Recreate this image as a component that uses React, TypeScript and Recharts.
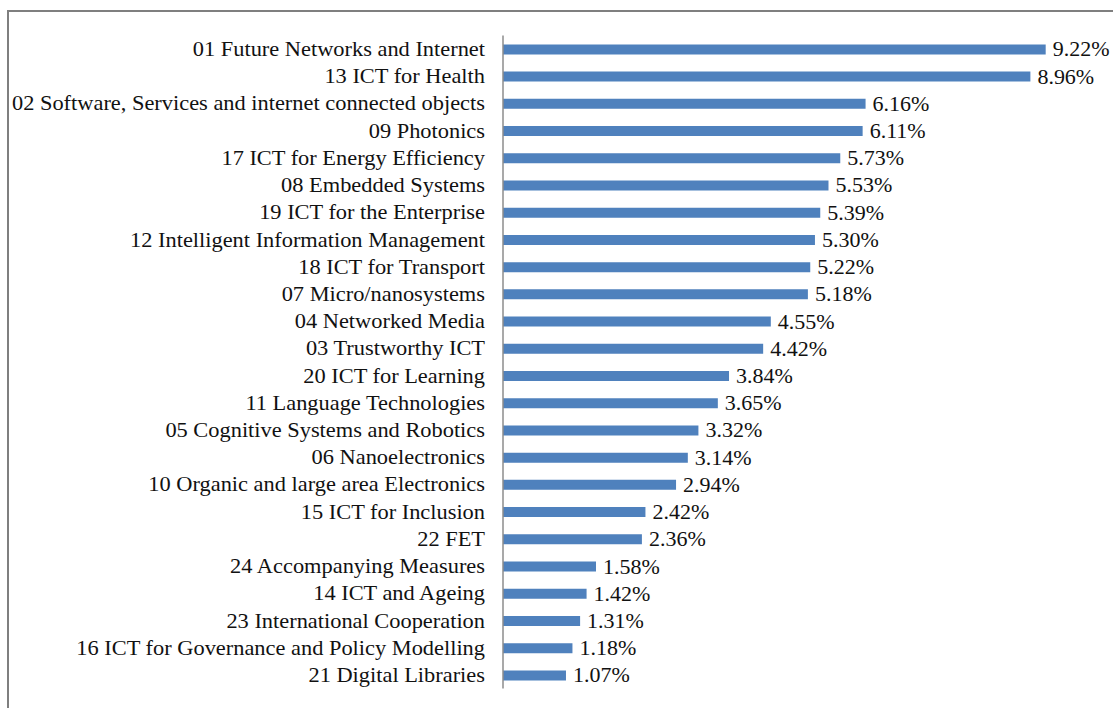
import React from "react";
import { BarChart, Bar, XAxis, YAxis, LabelList } from "recharts";

const categories = [
  "01 Future Networks and Internet",
  "13 ICT for Health",
  "02 Software, Services and internet connected objects",
  "09 Photonics",
  "17 ICT for Energy Efficiency",
  "08 Embedded Systems",
  "19 ICT for the Enterprise",
  "12 Intelligent Information Management",
  "18 ICT for Transport",
  "07 Micro/nanosystems",
  "04 Networked Media",
  "03 Trustworthy ICT",
  "20 ICT for Learning",
  "11 Language Technologies",
  "05 Cognitive Systems and Robotics",
  "06 Nanoelectronics",
  "10 Organic and large area Electronics",
  "15 ICT for Inclusion",
  "22 FET",
  "24 Accompanying Measures",
  "14 ICT and Ageing",
  "23 International Cooperation",
  "16 ICT for Governance and Policy Modelling",
  "21 Digital Libraries",
];

const shares = [
  9.22, 8.96, 6.16, 6.11, 5.73, 5.53, 5.39, 5.3, 5.22, 5.18, 4.55, 4.42, 3.84,
  3.65, 3.32, 3.14, 2.94, 2.42, 2.36, 1.58, 1.42, 1.31, 1.18, 1.07,
];

const data = categories.map((name, i) => ({ name, value: shares[i] }));

const FONT = "'Liberation Serif', serif";
const SX = 1.12;

const textStyle: React.CSSProperties = { fontFamily: FONT, fontSize: 20 };

const CatTick = (props: any) => {
  const { x, y, payload } = props;
  return (
    <g transform={`translate(${x},${y}) scale(${SX},1)`}>
      <text x={0} y={0} dy="0.35em" textAnchor="end" style={textStyle} fill="#111">
        {payload.value}
      </text>
    </g>
  );
};

const ValueLabel = (props: any) => {
  const { x, y, width, height, value } = props;
  const tx = Number(x) + Number(width) + 7;
  const ty = Number(y) + Number(height) / 2;
  return (
    <g transform={`translate(${tx},${ty}) scale(${1.1},1)`}>
      <text x={0} y={0} dy="0.35em" textAnchor="start" style={textStyle} fill="#111">
        {Number(value).toFixed(2) + "%"}
      </text>
    </g>
  );
};

export default function App() {
  return (
    <div>
      <div
        style={{
          position: "absolute",
          left: 7,
          top: 10,
          width: 1106,
          height: 698,
          borderLeft: "2px solid #7f7f7f",
          borderTop: "2px solid #7f7f7f",
          boxSizing: "border-box",
          background: "#fff",
        }}
      />
      <div style={{ position: "absolute", left: 0, top: 0 }}>
        <BarChart
          width={1113}
          height={708}
          data={data}
          layout="vertical"
          barSize={10}
          margin={{ top: 35.4, right: 21.4, bottom: 19.4, left: 0 }}
        >
          <XAxis type="number" domain={[0, 10]} hide />
          <YAxis
            type="category"
            dataKey="name"
            width={503}
            interval={0}
            tickLine={false}
            tickSize={0}
            tickMargin={18}
            axisLine={{ stroke: "#8c8c8c", strokeWidth: 1.5 }}
            tick={<CatTick />}
          />
          <Bar dataKey="value" fill="#4f81bd" isAnimationActive={false}>
            <LabelList dataKey="value" content={<ValueLabel />} />
          </Bar>
        </BarChart>
      </div>
    </div>
  );
}
